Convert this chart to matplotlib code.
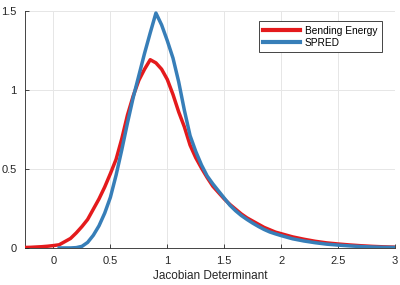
import matplotlib
matplotlib.use("Agg")
import matplotlib.pyplot as plt
from matplotlib.ticker import FuncFormatter

plt.rcParams['font.family'] = ['Liberation Sans', 'DejaVu Sans']

x_vals = [-0.25, -0.2, -0.15, -0.1, -0.05, 0.0, 0.05, 0.1, 0.15, 0.2, 0.25, 0.3, 0.35, 0.4,
          0.45, 0.5, 0.55, 0.6, 0.65, 0.7, 0.75, 0.8, 0.85, 0.9, 0.95, 1.0, 1.05, 1.1,
          1.15, 1.2, 1.25, 1.3, 1.35, 1.4, 1.45, 1.5, 1.55, 1.6, 1.65, 1.7, 1.75, 1.8,
          1.85, 1.9, 1.95, 2.0, 2.1, 2.2, 2.3, 2.4, 2.5, 2.6, 2.7, 2.8, 2.9, 3.0]

bending_energy = [0.003, 0.004, 0.006, 0.008, 0.011, 0.015, 0.02, 0.04, 0.06, 0.095, 0.135,
                  0.18, 0.245, 0.31, 0.385, 0.47, 0.56, 0.69, 0.84, 0.96, 1.06, 1.13, 1.19,
                  1.17, 1.13, 1.065, 0.97, 0.86, 0.765, 0.65, 0.57, 0.505, 0.445, 0.39, 0.35,
                  0.31, 0.275, 0.245, 0.215, 0.19, 0.17, 0.15, 0.13, 0.115, 0.1, 0.09,
                  0.07, 0.055, 0.042, 0.032, 0.025, 0.019, 0.014, 0.01, 0.007, 0.005]

spred = [None, None, None, None, None, None, 0.0, 0.0, 0.0, 0.002, 0.01, 0.035, 0.08,
         0.14, 0.22, 0.32, 0.46, 0.62, 0.79, 0.95, 1.09, 1.23, 1.36, 1.485, 1.41, 1.31,
         1.2, 1.05, 0.87, 0.71, 0.61, 0.525, 0.455, 0.405, 0.36, 0.315, 0.27, 0.235, 0.205,
         0.18, 0.157, 0.136, 0.117, 0.101, 0.089, 0.078, 0.058, 0.044, 0.033, 0.024,
         0.018, 0.013, 0.009, 0.006, 0.004, 0.003]

x_ticks = [0, 0.5, 1, 1.5, 2, 2.5, 3]
y_ticks = [0, 0.5, 1, 1.5]

fig = plt.figure(figsize=(4.0, 2.85), dpi=100)
ax = fig.add_axes([0.0625, 0.13, 0.925, 0.8325])

sx = [x for x, y in zip(x_vals, spred) if y is not None]
sy = [y for y in spred if y is not None]

ax.plot(x_vals, bending_energy, color='#E41A1C', lw=2.5, label='Bending Energy', zorder=3)
ax.plot(sx, sy, color='#377EB8', lw=2.5, label='SPRED', zorder=4)

ax.set_xlim(-0.25, 3)
ax.set_ylim(0, 1.5)
ax.set_xticks(x_ticks)
ax.set_yticks(y_ticks)
fmt = FuncFormatter(lambda v, p: ('%g' % v))
ax.xaxis.set_major_formatter(fmt)
ax.yaxis.set_major_formatter(fmt)
ax.grid(True, color='#e6e6e6', lw=0.7)
ax.set_axisbelow(True)
for s in ['top', 'right']:
    ax.spines[s].set_visible(False)
for s in ['left', 'bottom']:
    ax.spines[s].set_color('#262626')
    ax.spines[s].set_linewidth(0.6)
ax.tick_params(direction='in', length=3, width=0.6, colors='#262626', labelsize=8, pad=6)
ax.set_xlabel('Jacobian Determinant', fontsize=8.5, color='#262626', labelpad=3)

leg = ax.legend(loc='upper right', bbox_to_anchor=(0.978, 0.978), fontsize=7.3,
                frameon=True, fancybox=False, edgecolor='#262626', framealpha=1,
                handlelength=3.6, handletextpad=0.5, borderpad=0.45, labelspacing=0.2)
leg.get_frame().set_linewidth(0.6)
for line in leg.get_lines():
    line.set_linewidth(3)

fig.savefig('out.png', dpi=100)
